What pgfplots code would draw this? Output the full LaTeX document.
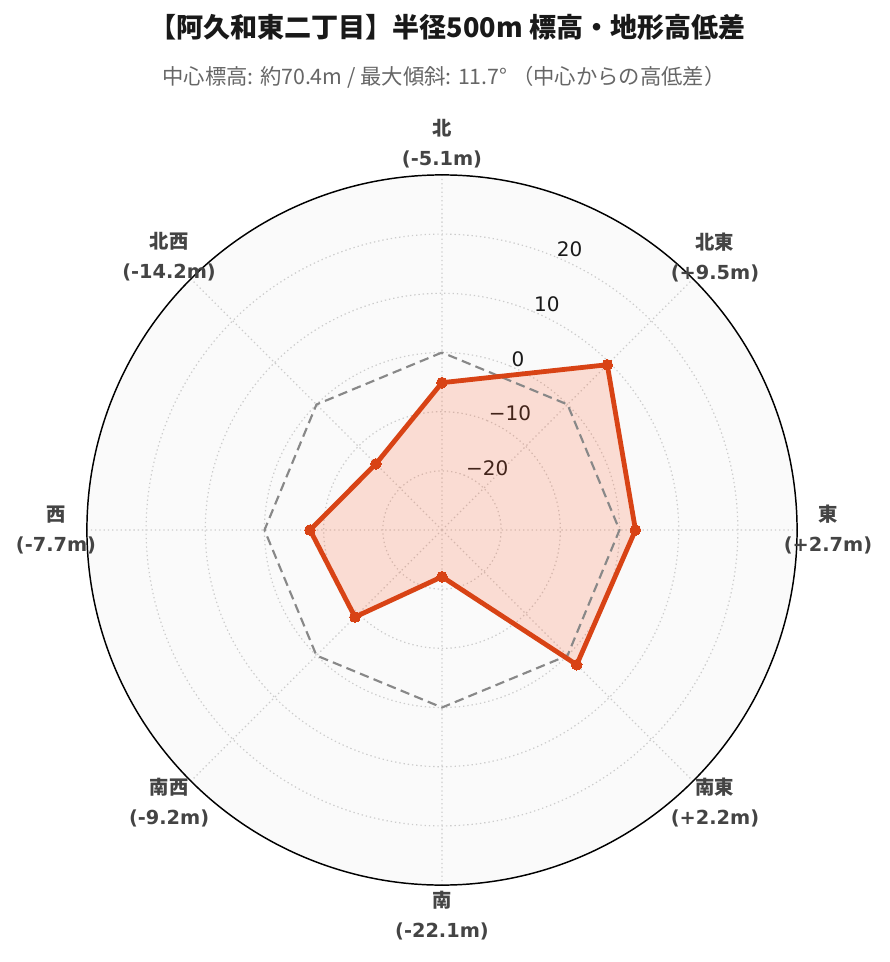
\documentclass[border=0pt]{standalone}
\usepackage{fontspec}
\setmainfont{DejaVu Sans}
\newfontfamily\cjk{Noto Sans CJK JP}
\usepackage{pgfplots}
\usepackage{pgfplotstable}
\usepgfplotslibrary{polar}
\pgfplotsset{compat=1.18}

\definecolor{linered}{HTML}{D84315}
\definecolor{fillred}{HTML}{FF5722}
\definecolor{refgray}{HTML}{888888}
\definecolor{bgdisk}{HTML}{FAFAFA}
\definecolor{labgray}{HTML}{444444}
\definecolor{subgray}{HTML}{666666}

% angle (deg, north = 90, clockwise) / height difference [m] / reference (0 m)
\pgfplotstableread{
ang  d     ref
90   -5.1  0
135  -14.2 0
180  -7.7  0
225  -9.2  0
270  -22.1 0
315  2.2   0
360  2.7   0
405  9.5   0
450  -5.1  0
}\dirtable

\newcommand\lab[2]{{\cjk\bfseries #1}\\{\bfseries #2}}

\begin{document}
\begin{tikzpicture}
\useasboundingbox (-331.5pt,-324pt) rectangle (335.25pt,397.5pt);

\node[font=\cjk\bfseries\fontsize{20.3}{23}\selectfont, text=black!90] at (4pt,377.25pt)
  {【阿久和東二丁目】半径500m 標高・地形高低差};
\node[font=\cjk\fontsize{16}{19}\selectfont, text=subgray] at (1.5pt,339.75pt)
  {中心標高: 約70.4m / 最大傾斜: 11.7° （中心からの高低差）};

\begin{polaraxis}[
  at={(0,0)}, anchor=center,
  scale only axis, width=532.5pt, height=532.5pt,
  xmin=67.5, xmax=427.5, ymin=0, ymax=60,
  xtick={90,135,180,225,270,315,360,405},
  xticklabels={
    \lab{北}{(-5.1m)}, \lab{北西}{(-14.2m)}, \lab{西}{(-7.7m)}, \lab{南西}{(-9.2m)},
    \lab{南}{(-22.1m)}, \lab{南東}{(+2.2m)}, \lab{東}{(+2.7m)}, \lab{北東}{(+9.5m)}},
  ytick={10,20,30,40,50},
  yticklabels={−20,−10,0,10,20},
  grid=major,
  major grid style={dash pattern=on 1pt off 2.2pt, draw=gray!40, line width=0.9pt},
  x axis line style={black, line width=1.1pt},
  y axis line style={draw=none},
  major tick length=0pt,
  axis background/.style={fill=bgdisk},
  xticklabel style={font=\fontsize{14.5}{22.5}\selectfont, text=labgray, align=center,
    anchor=center, shift={(\tick:23.25pt)}},
  yticklabel style={font=\fontsize{15}{17}\selectfont, text=black!90,
    anchor=base west, inner sep=1pt},
]
\addplot[draw=none, fill=fillred, fill opacity=0.18]
  table[x=ang, y expr=\thisrow{d}+30] {\dirtable};
\addplot[refgray, line width=1.6pt, dash pattern=on 7pt off 4pt]
  table[x=ang, y expr=\thisrow{ref}+30] {\dirtable};
\addplot[linered, line width=3.6pt, line join=round, mark=*, mark size=4pt,
  mark options={solid, fill=linered, draw=linered, line width=0pt}]
  table[x=ang, y expr=\thisrow{d}+30] {\dirtable};
\end{polaraxis}
\end{tikzpicture}
\end{document}
